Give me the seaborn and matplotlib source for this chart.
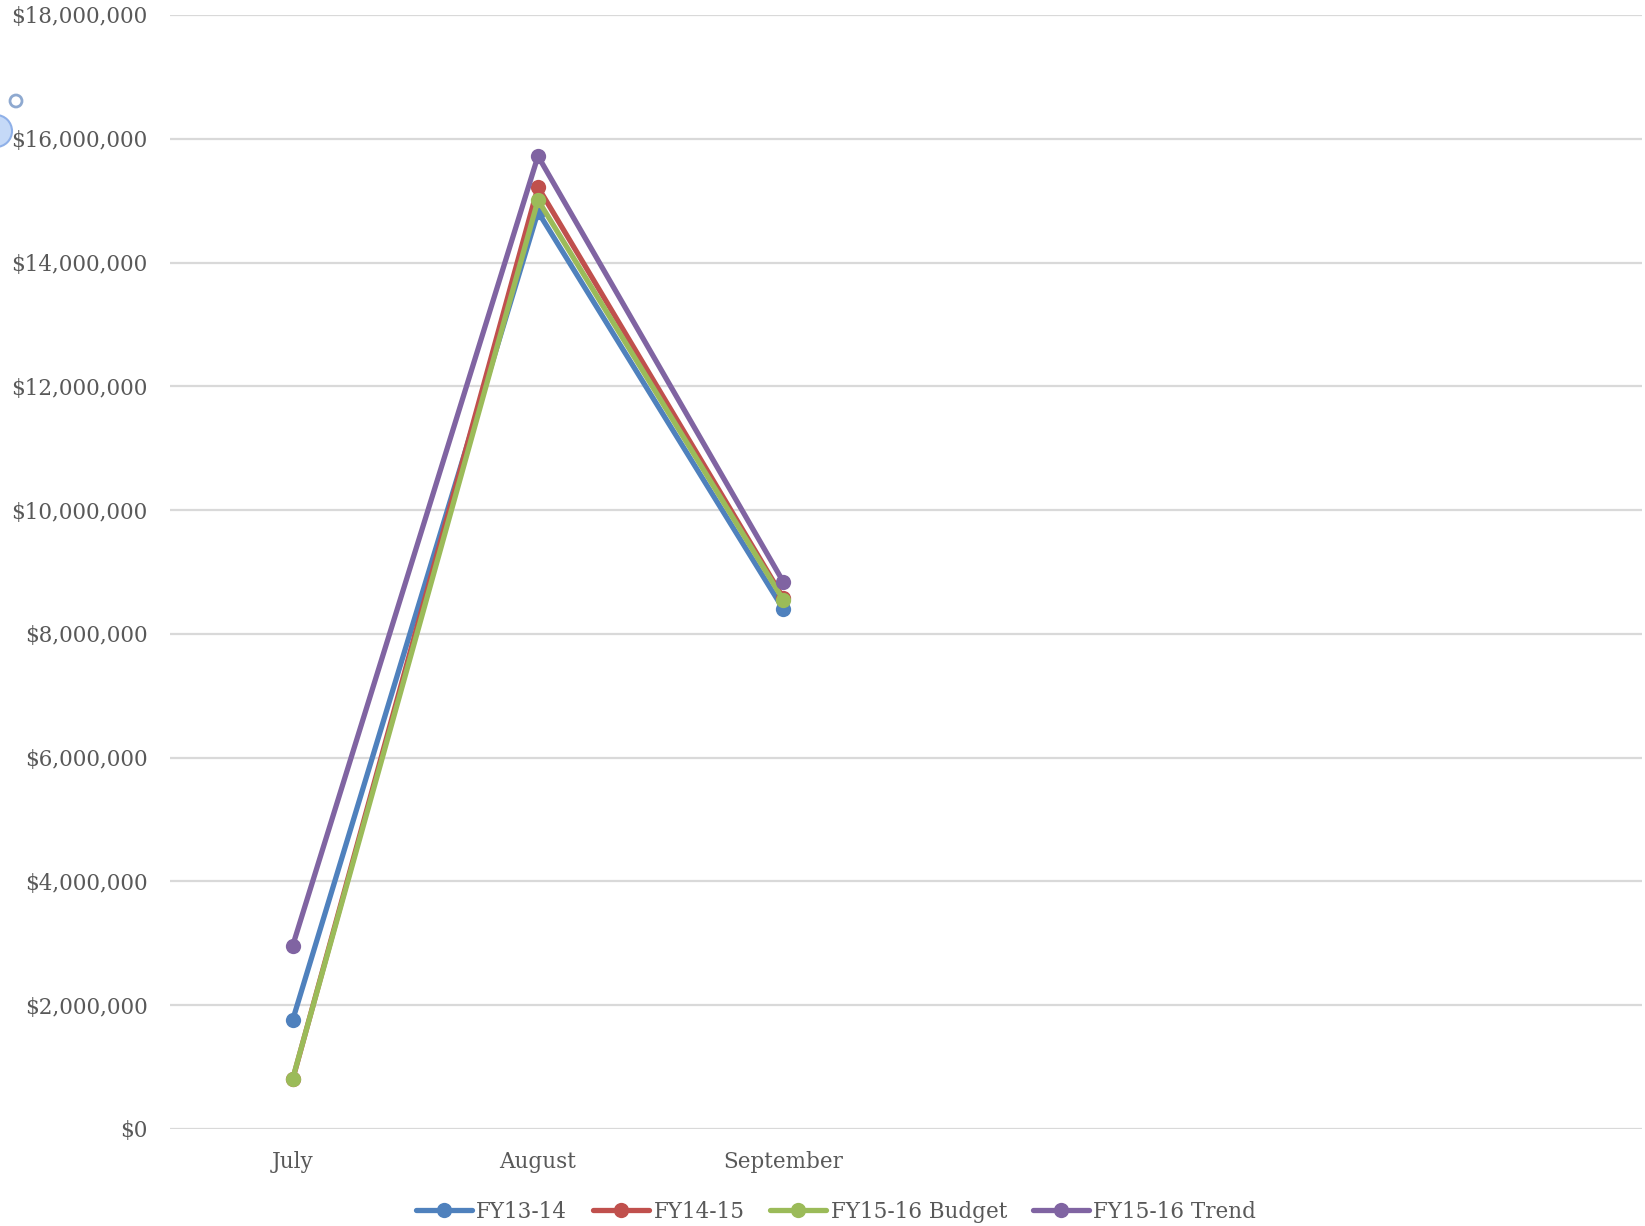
import pandas as pd
import seaborn as sns
import matplotlib.pyplot as plt
from matplotlib.patches import Circle
from matplotlib.ticker import FuncFormatter

months = ['July', 'August', 'September']
fy13_14 = [1.76e6, 14.82e6, 8.40e6]
fy14_15 = [0.80e6, 15.22e6, 8.58e6]
fy15_16_budget = [0.81e6, 15.01e6, 8.55e6]
fy15_16_trend = [2.96e6, 15.72e6, 8.84e6]

series = {
    'FY13-14': fy13_14,
    'FY14-15': fy14_15,
    'FY15-16 Budget': fy15_16_budget,
    'FY15-16 Trend': fy15_16_trend,
}
colores = ['#4F81BD', '#C0504D', '#9BBB59', '#8064A2']

rows = []
for nome, vals in series.items():
    for m, v in zip(months, vals):
        rows.append({'mes': m, 'valor': v, 'serie': nome})
df = pd.DataFrame(rows)

sns.set_style('white')
plt.rcParams['font.family'] = ['DejaVu Serif']
texto = '#595959'

fig = plt.figure(figsize=(16.45, 12.26), dpi=100)
ax = fig.add_axes([170 / 1645, 97 / 1226, 1472 / 1645, 1114 / 1226])

sns.lineplot(data=df, x='mes', y='valor', hue='serie', palette=colores,
             marker='o', markersize=11, markeredgewidth=0, linewidth=3.8,
             sort=False, ax=ax)

ax.set_xlim(-0.5, 5.5)
ax.set_ylim(0, 18e6)
ax.set_yticks(range(0, 18000001, 2000000))
ax.yaxis.set_major_formatter(FuncFormatter(lambda v, p: f'${v:,.0f}'))
ax.grid(axis='y', color='#D9D9D9', linewidth=1.6)
ax.grid(axis='x', visible=False)
ax.set_axisbelow(True)
for s in ax.spines.values():
    s.set_visible(False)
ax.tick_params(axis='y', length=0, pad=16, labelsize=15.5, labelcolor=texto)
ax.tick_params(axis='x', length=0, pad=16, labelsize=15.5, labelcolor=texto)
ax.set_xlabel('')
ax.set_ylabel('')

leg = ax.legend(loc='center', bbox_to_anchor=(836 / 1645, 1 - 1212 / 1226),
                bbox_transform=fig.transFigure, ncol=4, frameon=False,
                fontsize=15.5, handlelength=2.6, handletextpad=0.2,
                columnspacing=1.2, labelcolor=texto)

# small markers in the top-left corner of the original screenshot
fig.patches.append(Circle((0.16, (1226 - 101) / 100), 0.06, transform=fig.dpi_scale_trans,
                          facecolor='white', edgecolor='#8EA9D0', linewidth=2))
fig.patches.append(Circle((-0.04, (1226 - 131) / 100), 0.16, transform=fig.dpi_scale_trans,
                          facecolor='#C5D9F7', edgecolor='#8FB0E8', linewidth=1.5))

fig.savefig('out.png', dpi=100)
